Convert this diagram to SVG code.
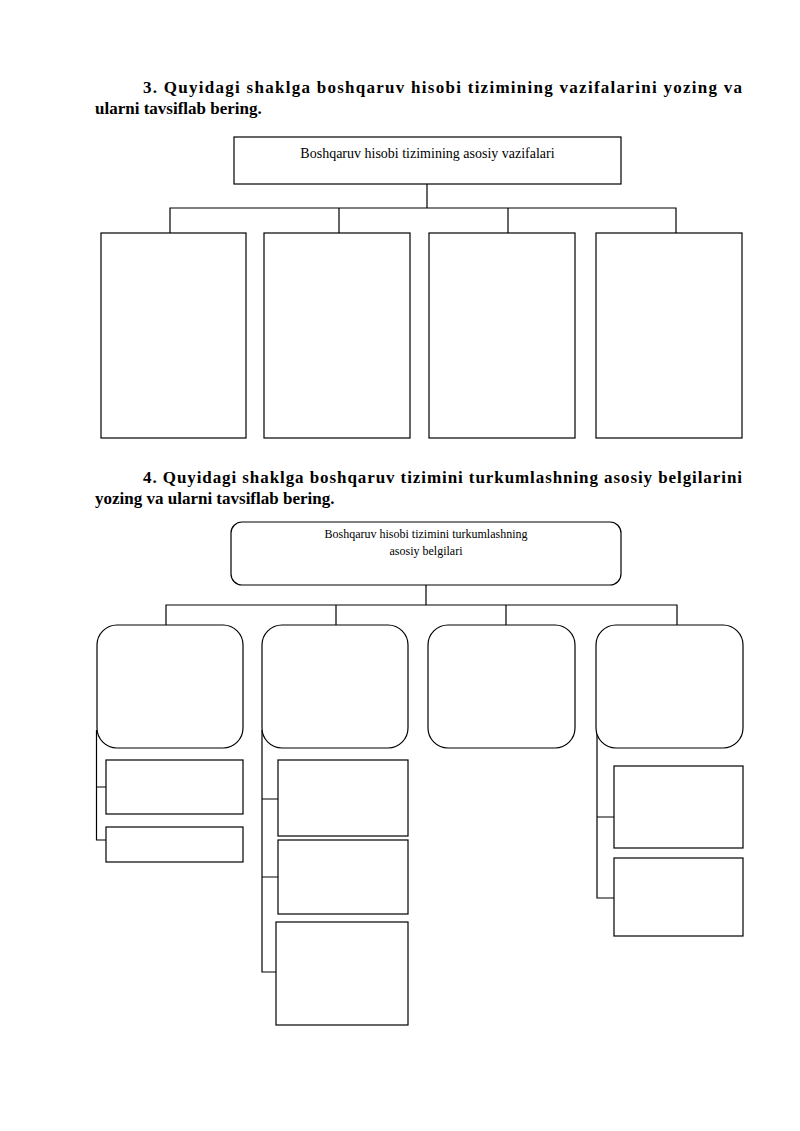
<svg xmlns="http://www.w3.org/2000/svg" width="800" height="1131" viewBox="0 0 800 1131">
<style>
.t{font-family:"Liberation Serif",serif;font-weight:bold;font-size:17px;fill:#000}
.h{font-family:"Liberation Serif",serif;font-size:14px;fill:#000}
.h2{font-family:"Liberation Serif",serif;font-size:12px;fill:#000}
rect{fill:#fff;stroke:#000;stroke-width:1.2}
.c path{fill:none;stroke:#000;stroke-width:1.2}
</style>
<rect x="0" y="0" width="800" height="1131" style="stroke:none"/>
<text class="t" x="143" y="93" textLength="599" lengthAdjust="spacing">3. Quyidagi shaklga boshqaruv hisobi tizimining vazifalarini yozing va</text>
<text class="t" x="95" y="114">ularni tavsiflab bering.</text>
<text class="t" x="143" y="483" textLength="599" lengthAdjust="spacing">4. Quyidagi shaklga boshqaruv tizimini turkumlashning asosiy belgilarini</text>
<text class="t" x="95" y="504">yozing va ularni tavsiflab bering.</text>
<g class="c" id="connectors">
<path d="M427 184V208M170 233V208H676V233M339 208V233M508 208V233"/>
<path d="M426 585V605M166 625V605H677V625M336 605V625M506 605V625"/>
<path d="M96.5 730V840H106M96.5 787H106"/>
<path d="M262 730V972H276M262 799H278M262 877H278"/>
<path d="M597 730V898H614M597 817H614"/>
</g>
<g id="n1"><rect x="234" y="137" width="387" height="47"/><text class="h" x="427.5" y="158" text-anchor="middle">Boshqaruv hisobi tizimining asosiy vazifalari</text></g>
<g id="n2"><rect x="101" y="233" width="145" height="205"/></g>
<g id="n3"><rect x="264" y="233" width="146" height="205"/></g>
<g id="n4"><rect x="429" y="233" width="146" height="205"/></g>
<g id="n5"><rect x="596" y="233" width="146" height="205"/></g>
<g id="m1"><rect x="231" y="522" width="390" height="63" rx="11"/><text class="h2" x="426" y="538" text-anchor="middle">Boshqaruv hisobi tizimini turkumlashning</text><text class="h2" x="426" y="555" text-anchor="middle">asosiy belgilari</text></g>
<g id="m2"><rect x="97" y="625" width="146" height="123" rx="20"/></g>
<g id="m3"><rect x="262" y="625" width="146" height="123" rx="20"/></g>
<g id="m4"><rect x="428" y="625" width="147" height="123" rx="20"/></g>
<g id="m5"><rect x="596" y="625" width="147" height="123" rx="20"/></g>
<g id="s1"><rect x="106" y="760" width="137" height="54"/></g>
<g id="s2"><rect x="106" y="827" width="137" height="35"/></g>
<g id="s3"><rect x="278" y="760" width="130" height="76"/></g>
<g id="s4"><rect x="278" y="840" width="130" height="74"/></g>
<g id="s5"><rect x="276" y="922" width="132" height="103"/></g>
<g id="s6"><rect x="614" y="766" width="129" height="82"/></g>
<g id="s7"><rect x="614" y="858" width="129" height="78"/></g>
</svg>
